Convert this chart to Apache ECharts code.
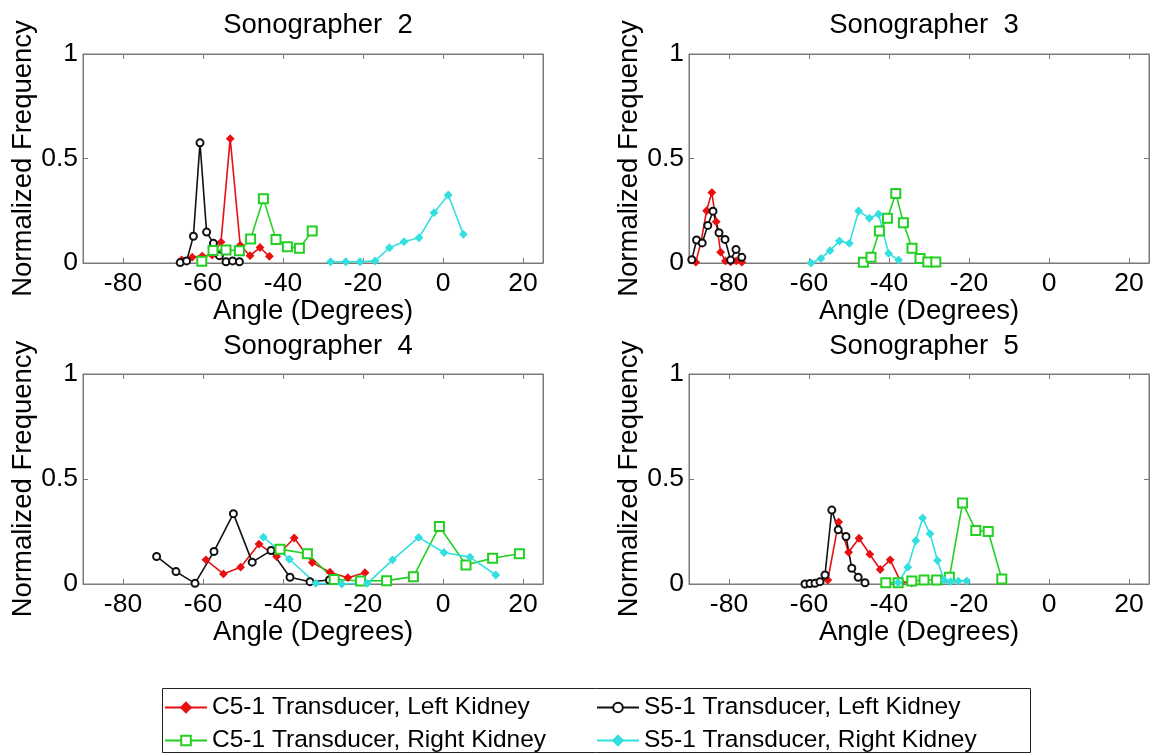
<!DOCTYPE html>
<html><head><meta charset="utf-8">
<script src="https://cdn.jsdelivr.net/npm/echarts@6/dist/echarts.min.js"></script>
<style>html,body{margin:0;padding:0;background:#fff}#c{width:1156px;height:753px}</style>
</head><body><div id="c"></div>
<script>
// ---- tick labels / names ----
const xTicks = [-80, -60, -40, -20, 0, 20];
const titles = ['Sonographer  2', 'Sonographer  3', 'Sonographer  4', 'Sonographer  5'];
const seriesNames = ['C5-1 Transducer, Left Kidney', 'S5-1 Transducer, Left Kidney',
                     'C5-1 Transducer, Right Kidney', 'S5-1 Transducer, Right Kidney'];

// ---- data: [angle (deg), normalized frequency] ----
// Sonographer 2
const s2_c5Left  = [[-65.3,0.015],[-62.7,0.028],[-60.2,0.033],[-57.7,0.038],[-55.5,0.1],[-53.2,0.595],[-50.7,0.085],[-48.25,0.035],[-45.75,0.074],[-43.4,0.032]];
const s2_s5Left  = [[-65.7,0.002],[-64.1,0.01],[-62.4,0.128],[-60.75,0.575],[-59.1,0.148],[-57.4,0.094],[-55.9,0.035],[-54.25,0.006],[-52.6,0.01],[-50.9,0.006]];
const s2_c5Right = [[-60.3,0.008],[-57.5,0.06],[-54.25,0.062],[-50.9,0.059],[-48.1,0.115],[-44.9,0.308],[-41.75,0.113],[-38.9,0.078],[-35.9,0.07],[-32.7,0.153]];
const s2_s5Right = [[-28.1,0.006],[-24.3,0.006],[-20.75,0.006],[-17,0.01],[-13.4,0.073],[-9.75,0.102],[-6,0.121],[-2.25,0.241],[1.3,0.325],[5.1,0.137]];
// Sonographer 3
const s3_c5Left  = [[-88.3,0.004],[-87.0,0.1],[-85.6,0.25],[-84.3,0.337],[-83.2,0.197],[-82.1,0.052],[-80.9,0.01],[-79.6,0.005],[-78.2,0.01],[-76.8,0.004]];
const s3_s5Left  = [[-89.3,0.016],[-88.1,0.11],[-86.7,0.096],[-85.3,0.18],[-84.0,0.248],[-82.5,0.145],[-81.0,0.113],[-79.6,0.014],[-78.25,0.065],[-76.8,0.027]];
const s3_c5Right = [[-46.4,0.003],[-44.5,0.027],[-42.4,0.153],[-40.4,0.214],[-38.3,0.333],[-36.4,0.193],[-34.25,0.07],[-32.25,0.022],[-30.3,0.005],[-28.3,0.005]];
const s3_s5Right = [[-59.5,0.0],[-57,0.022],[-54.75,0.059],[-52.4,0.105],[-49.9,0.094],[-47.6,0.249],[-44.9,0.214],[-42.6,0.234],[-40.1,0.046],[-37.6,0.014]];
// Sonographer 4
const s4_c5Left  = [[-59.25,0.115],[-54.9,0.048],[-50.6,0.08],[-46,0.19],[-41.6,0.131],[-37.2,0.219],[-32.7,0.102],[-28.25,0.056],[-23.8,0.03],[-19.5,0.054]];
const s4_s5Left  = [[-71.6,0.131],[-66.75,0.059],[-62,0.003],[-57.25,0.155],[-52.4,0.335],[-47.7,0.104],[-43,0.159],[-38.25,0.032],[-33.25,0.011],[-28.4,0.019]];
const s4_c5Right = [[-40.75,0.166],[-33.9,0.144],[-27.2,0.022],[-20.6,0.014],[-14.1,0.016],[-7.4,0.035],[-0.9,0.274],[5.75,0.091],[12.4,0.123],[19.1,0.144]];
const s4_s5Right = [[-44.9,0.223],[-38.4,0.118],[-31.8,0.003],[-25.3,0.0],[-18.9,0.003],[-12.6,0.115],[-6.1,0.222],[0.25,0.15],[6.75,0.128],[13.2,0.043]];
// Sonographer 5
const s5_c5Left  = [[-55.3,0.019],[-52.6,0.295],[-50.1,0.151],[-47.5,0.218],[-44.8,0.142],[-42.2,0.069],[-39.7,0.115],[-37.0,0.008],[-34.3,0.005]];
const s5_s5Left  = [[-61,0.0],[-59.75,0.002],[-58.5,0.003],[-57.25,0.011],[-56,0.043],[-54.3,0.352],[-52.7,0.258],[-50.75,0.226],[-49.3,0.075],[-47.7,0.032],[-46,0.006]];
const s5_c5Right = [[-40.8,0.006],[-37.7,0.006],[-34.3,0.014],[-31.25,0.019],[-28.1,0.019],[-24.9,0.032],[-21.6,0.386],[-18.3,0.255],[-15.2,0.25],[-11.8,0.024]];
const s5_s5Right = [[-37.7,0.006],[-35.3,0.08],[-33.3,0.206],[-31.6,0.314],[-29.75,0.239],[-27.9,0.112],[-26.25,0.019],[-24.6,0.011],[-22.7,0.014],[-20.6,0.014]];

const panels = [
  [s2_c5Left, s2_s5Left, s2_c5Right, s2_s5Right],
  [s3_c5Left, s3_s5Left, s3_c5Right, s3_s5Right],
  [s4_c5Left, s4_s5Left, s4_c5Right, s4_s5Right],
  [s5_c5Left, s5_s5Left, s5_c5Right, s5_s5Right]
];

// ---- styles ----
const FONT = 'Liberation Sans, Arial, sans-serif';
const AX = '#7a7a7a';
const styles = [
  {color:'#e81010', symbol:'diamond', symbolSize:7},
  {color:'#111111', symbol:'emptyCircle', symbolSize:7},
  {color:'#22d022', symbol:'emptyRect', symbolSize:9},
  {color:'#33dfe0', symbol:'diamond', symbolSize:7}
];
const gridPos = [
  {left:83,  top:54,  width:460, height:209},
  {left:689, top:54,  width:460, height:209},
  {left:83,  top:374, width:460, height:210},
  {left:689, top:374, width:460, height:210}
];
const titlePos = [[313,6],[919,6],[313,327],[919,327]];

const grid = [], xAxis = [], yAxis = [], series = [], title = [];
gridPos.forEach((g, i) => {
  grid.push(Object.assign({show:true, borderColor:AX, borderWidth:1, backgroundColor:'#fff', containLabel:false}, g));
  title.push({text:titles[i], left:titlePos[i][0], top:titlePos[i][1], textAlign:'center',
    textStyle:{fontSize:27.5, fontWeight:'normal', color:'#000', fontFamily:FONT}});
  const baseX = {gridIndex:i, type:'value', min:-90, max:25, splitLine:{show:false},
    axisLine:{show:true, onZero:false, lineStyle:{color:AX, width:1}},
    axisTick:{show:true, inside:true, length:5, customValues:xTicks, lineStyle:{color:AX}}};
  xAxis.push(Object.assign({}, baseX, {position:'bottom',
    axisLabel:{show:true, customValues:xTicks, fontSize:26.5, color:'#000', fontFamily:FONT, margin:7},
    name:'Angle (Degrees)', nameLocation:'middle', nameGap:32,
    nameTextStyle:{fontSize:27.5, color:'#000', fontFamily:FONT}}));
  xAxis.push(Object.assign({}, baseX, {position:'top', axisLabel:{show:false}}));
  const baseY = {gridIndex:i, type:'value', min:0, max:1, interval:0.5, splitLine:{show:false},
    axisLine:{show:true, onZero:false, lineStyle:{color:AX, width:1}},
    axisTick:{show:true, inside:true, length:5, lineStyle:{color:AX}}};
  yAxis.push(Object.assign({}, baseY, {position:'left',
    axisLabel:{show:true, fontSize:26.5, color:'#000', fontFamily:FONT, margin:5},
    name:'Normalized Frequency', nameLocation:'middle', nameGap:33, nameRotate:90,
    nameTextStyle:{fontSize:27.5, color:'#000', fontFamily:FONT}}));
  yAxis.push(Object.assign({}, baseY, {position:'right', axisLabel:{show:false}}));
  panels[i].forEach((d, k) => {
    const s = styles[k];
    series.push({type:'line', name:seriesNames[k], xAxisIndex:2*i, yAxisIndex:2*i, data:d,
      symbol:s.symbol, symbolSize:s.symbolSize, showSymbol:true,
      lineStyle:{color:s.color, width:1.6}, itemStyle:{color:s.color, borderColor:s.color, borderWidth:1.3},
      emphasis:{disabled:true}, animation:false, z:3});
  });
});

const legendText = {fontSize:24.5, color:'#000', fontFamily:FONT};
const option = {
  backgroundColor:'#fff',
  animation:false,
  title, grid, xAxis, yAxis, series,
  legend:[
    {type:'plain', orient:'horizontal', left:159, top:690, width:400, itemWidth:42, itemHeight:12, itemGap:8,
     data:[seriesNames[0], seriesNames[2]], textStyle:legendText, selectedMode:false},
    {type:'plain', orient:'horizontal', left:591, top:690, width:400, itemWidth:42, itemHeight:12, itemGap:8,
     data:[seriesNames[1], seriesNames[3]], textStyle:legendText, selectedMode:false}
  ],
  graphic:[{type:'rect', left:160, top:686, shape:{width:868, height:64},
    style:{fill:'none', stroke:'#222', lineWidth:1}, z:-1}]
};
const chart = echarts.init(document.getElementById('c'), null, {renderer:'canvas'});
chart.setOption(option);
</script></body></html>
